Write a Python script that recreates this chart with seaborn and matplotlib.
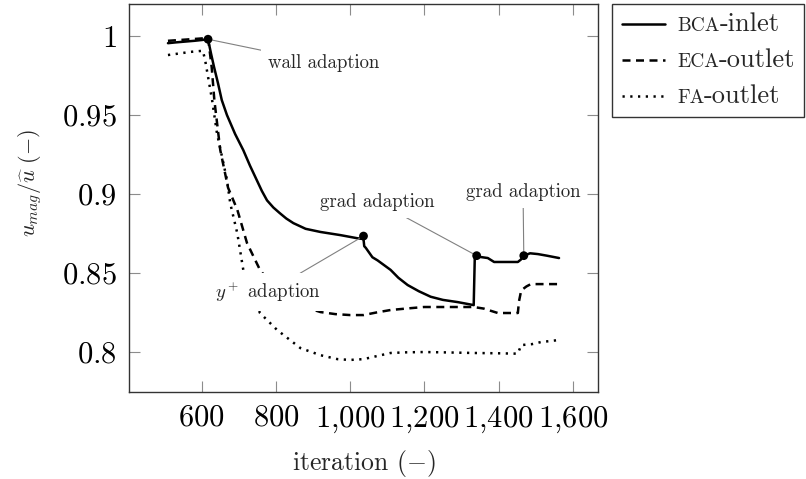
import matplotlib
matplotlib.use("Agg")
import numpy as np
import pandas as pd
import matplotlib.pyplot as plt
from matplotlib.ticker import FuncFormatter, FixedLocator
from matplotlib.patches import Rectangle
from matplotlib.lines import Line2D
import seaborn as sns

# Normalised velocity magnitude over solver iterations, one curve per boundary
bca_x = [509, 530, 555, 580, 600, 617, 625, 633, 644, 654, 668, 690, 712, 730,
         748, 762, 776, 793, 810, 828, 847, 880, 920, 974, 1020, 1036, 1038,
         1042, 1060, 1074, 1109, 1130, 1155, 1185, 1217, 1250, 1290, 1315, 1333,
         1336, 1341, 1371, 1388, 1420, 1452, 1460, 1468, 1485, 1506, 1530, 1563]
bca_y = [0.9955, 0.996, 0.9965, 0.997, 0.9975, 0.998, 0.989, 0.9806, 0.970,
         0.9595, 0.950, 0.938, 0.9278, 0.918, 0.909, 0.902, 0.896, 0.8915,
         0.888, 0.8845, 0.8816, 0.878, 0.876, 0.874, 0.872, 0.8715, 0.867,
         0.866, 0.860, 0.858, 0.852, 0.847, 0.8424, 0.8385, 0.835, 0.833,
         0.8316, 0.8305, 0.8297, 0.8608, 0.8605, 0.8595, 0.857, 0.857, 0.857,
         0.8585, 0.861, 0.8625, 0.862, 0.861, 0.8595]

eca_x = [509, 540, 570, 600, 617, 627, 634, 650, 671, 696, 722, 757, 790, 830,
         870, 920, 960, 1000, 1036, 1070, 1109, 1150, 1199, 1250, 1333, 1360,
         1398, 1430, 1452, 1455, 1461, 1475, 1487, 1520, 1563]
eca_y = [0.997, 0.9975, 0.998, 0.9985, 0.999, 0.980, 0.9595, 0.9278, 0.904,
         0.890, 0.869, 0.852, 0.842, 0.834, 0.829, 0.8253, 0.824, 0.8234,
         0.8234, 0.825, 0.8266, 0.8275, 0.8285, 0.8285, 0.8285, 0.8275, 0.8247,
         0.8247, 0.8247, 0.832, 0.839, 0.8415, 0.843, 0.843, 0.843]

fa_x = [509, 540, 570, 603, 609, 628, 641, 668, 677, 696, 712, 735, 757, 803,
        866, 920, 966, 1000, 1036, 1064, 1109, 1150, 1199, 1250, 1333, 1400,
        1443, 1452, 1461, 1490, 1514, 1563]
fa_y = [0.988, 0.989, 0.990, 0.9907, 0.985, 0.9595, 0.9386, 0.909, 0.894,
        0.875, 0.852, 0.837, 0.8247, 0.814, 0.8025, 0.798, 0.7955, 0.795,
        0.7955, 0.797, 0.7994, 0.7998, 0.800, 0.7998, 0.7994, 0.7992, 0.799,
        0.799, 0.8044, 0.805, 0.8063, 0.8076]

series_names = ["BCA-inlet", "ECA-outlet", "FA-outlet"]

# Mesh adaption events marked on the BCA-inlet curve
adapt_x = [617, 1036, 1341, 1468]
adapt_y = [0.998, 0.8734, 0.861, 0.861]
adapt_labels = ["wall adaption", "$y^+$ adaption", "grad adaption", "grad adaption"]
label_x = [928, 779, 1074, 1466]
label_y = [0.9829, 0.838, 0.8949, 0.9013]

x_ticks = [600, 800, 1000, 1200, 1400, 1600]
y_ticks = [0.8, 0.85, 0.9, 0.95, 1.0]


def thousands(v, pos):
    s = f"{int(round(v)):,}"
    return "$" + s.replace(",", "{,}") + "$"


def decimals(v, pos):
    return "$1$" if abs(v - 1) < 1e-9 else f"${v:g}$"


sns.set_style("ticks")
plt.rcParams.update({
    "font.family": "serif",
    "font.serif": ["cmr10"],
    "mathtext.fontset": "cm",
    "axes.formatter.use_mathtext": True,
})

W, H = 806, 479
fig = plt.figure(figsize=(W / 100, H / 100), dpi=100)
ax = fig.add_axes([129 / W, 87 / H, 469 / W, 388 / H])

df = pd.concat([
    pd.DataFrame({"iteration": bca_x, "u": bca_y, "series": series_names[0]}),
    pd.DataFrame({"iteration": eca_x, "u": eca_y, "series": series_names[1]}),
    pd.DataFrame({"iteration": fa_x, "u": fa_y, "series": series_names[2]}),
], ignore_index=True)

line_dashes = {series_names[0]: "", series_names[1]: (3.2, 2.2),
               series_names[2]: (0.9, 2.2)}
sns.lineplot(data=df, x="iteration", y="u", style="series",
             style_order=series_names, dashes=line_dashes, color="black",
             lw=1.8, estimator=None, sort=False, legend=False, ax=ax)

for t, lx, ly, px, py in zip(adapt_labels, label_x, label_y, adapt_x, adapt_y):
    ax.annotate(t, xy=(px, py), xytext=(lx, ly), textcoords="data",
                ha="center", va="center", fontsize=13.5, zorder=5,
                bbox=dict(boxstyle="square,pad=0.35", fc="white", ec="none"),
                arrowprops=dict(arrowstyle="-", color="0.5", lw=0.8,
                                shrinkA=0, shrinkB=0))

sns.scatterplot(x=adapt_x, y=adapt_y, color="black", s=40, edgecolor="none",
                zorder=6, ax=ax)

ax.set_xlim(404, 1668)
ax.set_ylim(0.7747, 1.0203)
ax.xaxis.set_major_locator(FixedLocator(x_ticks))
ax.yaxis.set_major_locator(FixedLocator(y_ticks))
ax.xaxis.set_major_formatter(FuncFormatter(thousands))
ax.yaxis.set_major_formatter(FuncFormatter(decimals))
ax.tick_params(direction="in", length=8, width=0.8, color="0.55",
               labelcolor="black", labelsize=22, top=True, right=True, pad=9)
for sp in ax.spines.values():
    sp.set_linewidth(1.0)
    sp.set_color("0.2")

ax.set_xlabel(r"iteration $(-)$", fontsize=18.5)
ax.set_ylabel(r"$u_{mag}/\widehat{u}\ (-)$", fontsize=16)
ax.xaxis.set_label_coords(0.5, -(448 - 392) / 388)
ax.yaxis.set_label_coords((44 - 129) / 469, (392 - 183) / 388)

# Legend drawn in figure pixels, abbreviations set as small capitals
fig.add_artist(Rectangle((612, H - 117), 192, 113, transform=None,
                         fc="white", ec="0.2", lw=1.0))
styles = ["-", (0, (3.2, 2.2)), (0, (0.9, 2.2))]
caps = ["BCA", "ECA", "FA"]
rests = ["-inlet", "-outlet", "-outlet"]
baselines = [31, 67, 103]
cap_texts = []
for st, cp, bl in zip(styles, caps, baselines):
    yb = H - bl
    fig.add_artist(Line2D([622, 665], [yb + 7, yb + 7], transform=None,
                          color="black", lw=1.8, linestyle=st))
    cap_texts.append(fig.text(677, yb, cp, fontsize=14, va="baseline",
                              ha="left", transform=None))
fig.canvas.draw()
renderer = fig.canvas.get_renderer()
for t1, rs, bl in zip(cap_texts, rests, baselines):
    bb = t1.get_window_extent(renderer)
    fig.text(bb.x1, H - bl, rs, fontsize=19, va="baseline", ha="left",
             transform=None)

fig.savefig("out.png", dpi=100)
